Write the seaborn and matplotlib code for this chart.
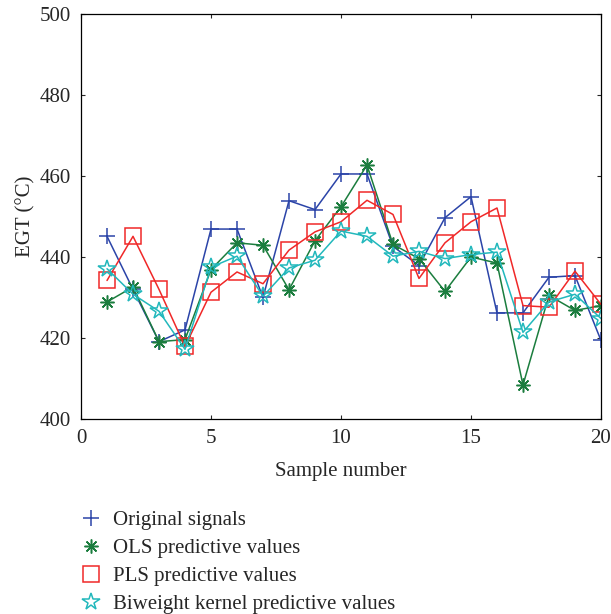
import matplotlib
matplotlib.use("Agg")
import matplotlib.pyplot as plt
import pandas as pd
import seaborn as sns
from matplotlib.lines import Line2D

sample = list(range(1, 21))
original = [445.1, 432.0, 419.1, 422.0, 446.9, 446.9, 430.0, 453.9, 451.7, 460.5,
            460.5, 442.6, 437.9, 449.7, 454.9, 426.2, 426.2, 435.0, 435.4, 419.4]
ols = [428.9, 432.6, 419.1, 419.6, 436.9, 443.5, 442.9, 431.9, 444.0, 452.4,
       462.7, 443.1, 439.6, 431.5, 440.0, 438.5, 408.4, 430.5, 426.8, 428.0]
pls = [434.2, 445.1, 432.0, 417.9, 431.3, 436.3, 433.4, 441.7, 446.2, 448.7,
       454.0, 450.5, 434.7, 443.5, 448.7, 452.1, 428.0, 427.6, 436.5, 428.3]
biweight = [437.1, 430.8, 426.6, 417.2, 437.5, 440.2, 430.3, 437.3, 439.2, 446.4,
            445.1, 440.2, 441.4, 439.6, 440.6, 441.2, 421.4, 428.9, 430.8, 424.8]

series_names = ["Original signals", "OLS predictive values",
                "PLS predictive values", "Biweight kernel predictive values"]
colors = ["#2b44a8", "#1b7d3e", "#f02828", "#22b8bc"]
# plus, 8-armed asterisk, open square, open star
markers = ["+", (8, 2, 0), "s", "*"]
marker_sizes = [12, 10, 11, 13]
face_colors = [None, None, "none", "none"]

sns.set_theme(style="ticks")
plt.rcParams["font.family"] = ["Liberation Serif", "DejaVu Serif"]

frame = pd.DataFrame({
    "sample": sample * 4,
    "egt": original + ols + pls + biweight,
    "series": sum([[name] * len(sample) for name in series_names], []),
})

fig = plt.figure(figsize=(6.11, 6.14), dpi=100)
ax = fig.add_axes([0.1326, 0.3176, 0.8510, 0.6596])

handles = []
for name, color, marker, ms, fc in zip(series_names, colors, markers, marker_sizes, face_colors):
    sub = frame[frame["series"] == name]
    face = color if fc is None else fc
    sns.lineplot(
        data=sub, x="sample", y="egt", ax=ax, color=color, linewidth=1.1,
        marker=marker, markersize=ms, markeredgewidth=1.1,
        markerfacecolor=face, markeredgecolor=color, legend=False,
    )
    handles.append(Line2D([], [], linestyle="none", marker=marker, markersize=ms,
                          markeredgewidth=1.1, color=color, markerfacecolor=face))

ax.set_xlim(0, 20)
ax.set_ylim(400, 500)
ax.set_xticks([0, 5, 10, 15, 20])
ax.set_yticks([400, 420, 440, 460, 480, 500])
ax.tick_params(direction="in", top=True, right=True, labelsize=15, length=3,
               width=0.8, pad=7)
for spine in ax.spines.values():
    spine.set_visible(True)
    spine.set_linewidth(0.9)
    spine.set_color("black")
ax.set_xlabel("Sample number", fontsize=15, labelpad=10)
ax.set_ylabel("EGT (°C)", fontsize=15, labelpad=3)

fig.legend(handles, series_names, loc="upper left", bbox_to_anchor=(0.118, 0.182),
           frameon=False, fontsize=15, handlelength=1.0, handletextpad=0.55,
           labelspacing=0.4, borderaxespad=0)

fig.savefig("out.png", dpi=100)
